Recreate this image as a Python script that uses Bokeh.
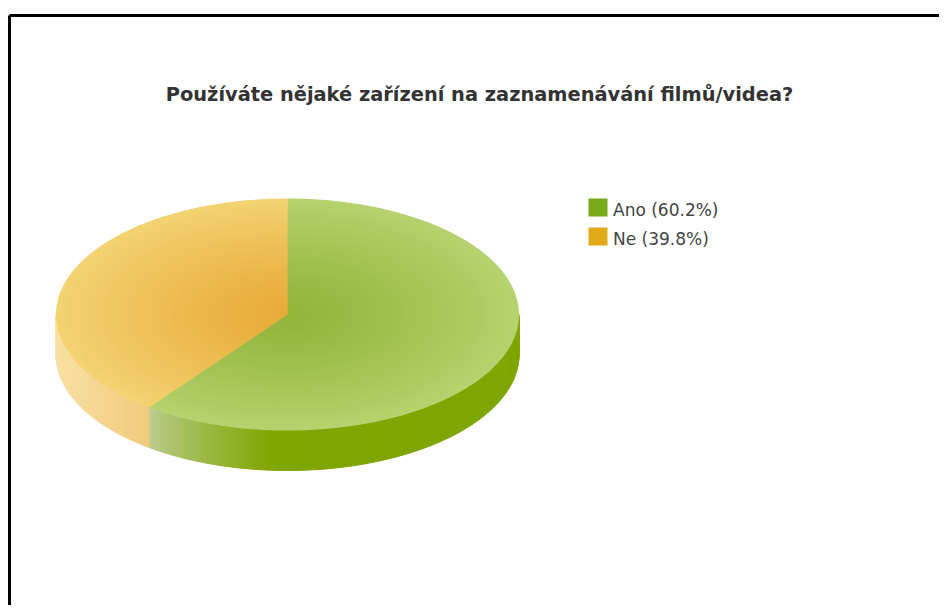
import numpy as np
from bokeh.plotting import figure
from bokeh.models import Range1d
from bokeh.embed import file_html
from bokeh.resources import INLINE
from bokeh.core.properties import value

# ---------------- data ----------------
title_text = "Používáte nějaké zařízení na zaznamenávání filmů/videa?"
categories = ["Ano", "Ne"]
percents = [60.2, 39.8]
legend_labels = ["Ano (60.2%)", "Ne (39.8%)"]
legend_colors = ["#79aa1a", "#e2a91b"]
top_edge_colors = ["#b6d26e", "#f3d271"]
top_center_colors = ["#92b53a", "#e8ab3a"]
side_dark_colors = ["#7fa600", "#f1ca7c"]
side_light_colors = ["#bccd92", "#f8e0a2"]

# ---------------- layout (pixel coords) ----------------
W, H = 939, 605
CX, CY = 287, 314          # pie centre
A, B = 231.5, 116.0        # ellipse semi-axes
D = 40.0                   # pie thickness


def hex2rgb(h):
    h = h.lstrip("#")
    return np.array([int(h[i:i + 2], 16) for i in (0, 2, 4)], dtype=float)


def mix(c1, c2, t):
    c = hex2rgb(c1) * (1 - t) + hex2rgb(c2) * t
    return "#%02x%02x%02x" % tuple(int(round(v)) for v in c)


def ex(theta):
    return CX + A * np.sin(theta)


def ey(theta):
    return CY - B * np.cos(theta)


p = figure(width=W, height=H, output_backend="svg", toolbar_location=None,
           x_range=Range1d(0, W), y_range=Range1d(H, 0),
           min_border=0, outline_line_color=None, border_fill_color="white")
p.axis.visible = False
p.grid.visible = False
p.background_fill_color = "white"

# slice angles (clockwise from 12 o'clock)
total = sum(percents)
bounds = np.concatenate([[0], np.cumsum(percents) / total * 2 * np.pi])

# ---------- side walls ----------
split_x = ex(bounds[1])
xs_side, ys_side, cs_side = [], [], []
for i in range(len(percents)):
    t0 = max(bounds[i], np.pi / 2)
    t1 = min(bounds[i + 1], 3 * np.pi / 2)
    if t1 <= t0:
        continue
    n = max(int(np.degrees(t1 - t0)), 2)
    th = np.linspace(t0, t1, n + 1)
    for a0, a1 in zip(th[:-1], th[1:]):
        xa, xb = ex(a0), ex(a1)
        ya, yb = ey(a0), ey(a1)
        xm = (xa + xb) / 2
        if i == 0:
            t = np.clip((xm - split_x) / ((CX - 15) - split_x), 0, 1)
            col = mix(side_light_colors[0], side_dark_colors[0], t ** 0.8)
        else:
            t = np.clip((split_x - xm) / (split_x - (CX - A)), 0, 1)
            col = mix(side_dark_colors[1], side_light_colors[1], t)
        xs_side.append([xa, xb, xb, xa])
        ys_side.append([ya, yb, yb + D, ya + D])
        cs_side.append(col)
p.patches(xs_side, ys_side, fill_color=cs_side, line_color=cs_side, line_width=1)

# ---------- top surface with radial gradient ----------
NL = 40
xs_top, ys_top, cs_top = [], [], []
for k in range(NL, 0, -1):
    s = k / NL
    for i in range(len(percents)):
        th = np.linspace(bounds[i], bounds[i + 1], 160)
        xs_top.append(list(np.concatenate([[CX], CX + s * A * np.sin(th)])))
        ys_top.append(list(np.concatenate([[CY], CY - s * B * np.cos(th)])))
        cs_top.append(mix(top_center_colors[i], top_edge_colors[i], s ** 1.3))
p.patches(xs_top, ys_top, fill_color=cs_top, line_color=None)

# ---------- title ----------
p.text(x=[479], y=[94], text=[title_text],
       text_font=value("DejaVu Sans"), text_font_style="bold",
       text_font_size="19.4px", text_color="#333333",
       text_align="center", text_baseline="middle")

# ---------- legend ----------
LX, LY, LSTEP, LW, LH = 597.5, 207, 29, 19, 18
ly = [LY + LSTEP * i for i in range(len(categories))]
p.rect(x=[LX] * len(categories), y=ly, width=LW, height=LH,
       fill_color=legend_colors, line_color=None)
p.text(x=[LX + 15] * len(categories), y=[v + 2 for v in ly], text=legend_labels,
       text_font=value("DejaVu Sans"), text_font_size="17px",
       text_color="#444444", text_align="left", text_baseline="middle")

# ---------- outer frame (left and top edges only) ----------
FL, FT = 9, 15
p.segment(x0=[FL, FL], y0=[H, FT], x1=[FL, W], y1=[FT, FT],
          line_color="#000000", line_width=3)

open("out.html", "w").write(file_html(p, INLINE))
